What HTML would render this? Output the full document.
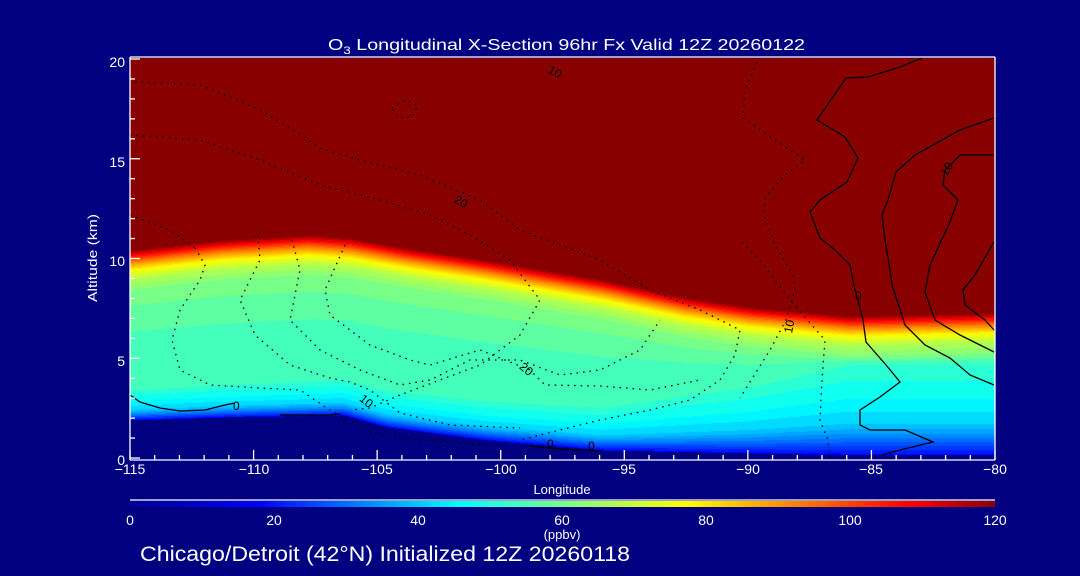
<!DOCTYPE html>
<html><head><meta charset="utf-8"><style>
html,body{margin:0;padding:0;background:#000080;}
#w{position:relative;width:1080px;height:576px;overflow:hidden;background:#000080;}
canvas,svg{position:absolute;left:0;top:0;}
text{font-family:"Liberation Sans",sans-serif;fill:#fff;}
</style></head><body><div id="w">
<canvas id="c" width="1080" height="576"></canvas>
<svg id="s" width="1080" height="576" xmlns="http://www.w3.org/2000/svg">
<defs><linearGradient id="cb" x1="0" x2="1" y1="0" y2="0">
<stop offset="0" stop-color="#000090"/><stop offset="0.148" stop-color="#0000ff"/><stop offset="0.383" stop-color="#00ffff"/><stop offset="0.508" stop-color="#80ff80"/><stop offset="0.642" stop-color="#ffff00"/><stop offset="0.9" stop-color="#ff0000"/><stop offset="1" stop-color="#880000"/></linearGradient></defs>
<g fill="none" stroke="#000" stroke-width="1.3">
<polyline points="922,58 900,67 868,77 846,78 817,120 845,137 858,158 847,182 820,200 810,212 820,238 835,250 850,265 855,290 858,300 863,320 866,342 886,365 900,382 880,397 860,410 860,425 870,430 905,430 933,442 900,450 882,455"/>
<polyline points="994,118 960,130 915,155 896,172 888,200 882,215 885,240 890,270 892,285 905,325 925,345 950,358 970,375 994,385"/>
<polyline points="994,155 960,155 945,170 943,185 958,200 950,222 930,265 925,292 935,320 960,335 994,352"/>
<polyline points="994,242 975,275 963,290 965,305 985,320 994,330"/>
<polyline points="130,395 140,402 160,408 180,411 205,410 225,405 235,403"/>
<polyline points="340,414 330,415 300,415 280,415"/>
<polyline points="530,446 560,449 600,451"/>
</g>
<g fill="none" stroke="#000" stroke-width="1.3" stroke-dasharray="1.5,5">
<polyline points="757,62 745,90 743,118 775,140 805,160 785,175 765,198 764,215 775,245 793,275 795,290 786,320 770,350 740,398"/>
<polyline points="742,242 760,260 790,300 825,340 822,380 820,420 828,440 830,458"/>
<polyline points="135,82 160,83 200,85 230,97 260,110 290,128 320,148 360,160 420,175 480,200 520,230 560,245 600,260 650,290 700,310 740,330 735,355 720,380 690,400 650,410 600,420 560,430 520,440"/>
<polyline points="130,135 200,140 260,160 320,185 380,200 430,215 470,235 510,260 540,300 520,335 480,365 440,380 400,395 370,408 350,410"/>
<polyline points="195,248 205,265 200,280 180,310 172,340 180,370 210,385 260,388 300,390 330,410 372,433 420,440 480,445"/>
<polyline points="258,235 260,260 240,300 255,335 290,365 330,378 350,382 370,390 400,413 450,425 520,428"/>
<polyline points="292,240 300,270 290,320 320,350 360,370 400,385 430,380 470,360 520,360 560,375 600,370 640,350 660,320"/>
<polyline points="345,245 325,290 330,315 370,345 410,360 430,365 480,350 500,358 530,370 545,385 600,386 650,390 700,380"/>
<polyline points="130,215 170,230 195,248"/>
<polyline points="392,108 405,100 418,105 412,117 398,118 392,108"/>
</g>
<g font-size="12"><text x="548" y="75" style="fill:#000" transform="rotate(30 553 72)">10</text><text x="455" y="205" style="fill:#000" transform="rotate(30 460 200)">20</text><text x="520" y="372" style="fill:#000" transform="rotate(40 525 368)">20</text><text x="360" y="404" style="fill:#000" transform="rotate(40 365 400)">10</text><text x="783" y="333" style="fill:#000" transform="rotate(-80 788 328)">10</text><text x="940" y="175" style="fill:#000" transform="rotate(-60 945 170)">10</text><text x="233" y="410" style="fill:#000">0</text><text x="855" y="300" style="fill:#000">0</text><text x="547" y="448" style="fill:#000">0</text><text x="588" y="450" style="fill:#000">0</text></g>
<g stroke="#fff" stroke-width="1.3" fill="none">
<line x1="130" y1="57" x2="995" y2="57"/><line x1="130" y1="460" x2="995" y2="460"/>
<line x1="130" y1="57" x2="130" y2="460"/><line x1="995" y1="57" x2="995" y2="460"/>
<line x1="130" y1="500" x2="995" y2="500"/>
<g id="tk"></g>
</g>
<rect x="130" y="501" width="865" height="6" fill="url(#cb)"/>
<g font-size="14" text-anchor="end">
<text x="125" y="465">0</text><text x="125" y="366">5</text><text x="125" y="266">10</text><text x="125" y="167">15</text><text x="125" y="67">20</text></g>
<g font-size="14" text-anchor="middle">
<text x="130" y="474">−115</text><text x="254" y="474">−110</text><text x="377" y="474">−105</text><text x="501" y="474">−100</text><text x="624" y="474">−95</text><text x="748" y="474">−90</text><text x="871" y="474">−85</text><text x="995" y="474">−80</text>
<text x="562" y="494" font-size="13">Longitude</text>
<text x="130" y="525">0</text><text x="274" y="525">20</text><text x="418" y="525">40</text><text x="562" y="525">60</text><text x="706" y="525">80</text><text x="850" y="525">100</text><text x="995" y="525">120</text>
<text x="562" y="539" font-size="13">(ppbv)</text>
<text x="97" y="258" font-size="13" transform="rotate(-90 97 258)" textLength="88" lengthAdjust="spacingAndGlyphs">Altitude (km)</text>
</g>
<text x="328" y="50" font-size="16" textLength="477" lengthAdjust="spacingAndGlyphs">O<tspan font-size="11" dy="4">3</tspan><tspan dy="-4"> Longitudinal X-Section 96hr  Fx Valid 12Z 20260122</tspan></text>
<text x="140" y="561" font-size="21" textLength="490" lengthAdjust="spacingAndGlyphs">Chicago/Detroit (42°N) Initialized 12Z 20260118</text>
</svg>
<script>
(function(){
var c=document.getElementById('c').getContext('2d');
function lin(pts,x){for(var i=0;i<pts.length-1;i++){if(x<=pts[i+1][0]){var t=(x-pts[i][0])/(pts[i+1][0]-pts[i][0]);return pts[i][1]+t*(pts[i+1][1]-pts[i][1]);}}return pts[pts.length-1][1];}
var B=[[130,250],[221,240],[308,235],[350,238],[407,248],[486,260],[604,280],[683,297],[750,307],[850,316],[995,313]];
var G=[[130,420],[225,417],[343,415],[387,427],[486,440],[604,450],[750,453],[850,455],[995,455]];
var S=[[130,1],[600,1.4],[750,2.2],[850,3],[995,3]];
var cm=[[0,[0,0,144]],[18,[0,0,255]],[46,[0,255,255]],[61,[128,255,128]],[77,[255,255,0]],[108,[255,0,0]],[120,[136,0,0]]];
function col(v){for(var i=0;i<cm.length-1;i++){if(v<=cm[i+1][0]){var t=(v-cm[i][0])/(cm[i+1][0]-cm[i][0]);var a=cm[i][1],b=cm[i+1][1];return [a[0]+t*(b[0]-a[0]),a[1]+t*(b[1]-a[1]),a[2]+t*(b[2]-a[2])];}}return cm[cm.length-1][1];}
var img=c.createImageData(865,400);
var top=[[0,120],[5,108],[12,92],[20,77],[28,68],[42,60]];
for(var x=130;x<995;x++){
 var b=lin(B,x),g=lin(G,x),s=lin(S,x);
 var bot=[[0,18],[5*s,30],[10*s,40],[18*s,46],[30*s,52]];
 for(var y=58;y<458;y++){
  var v;
  if(y>=g) v=0;
  else if(y<=b) v=120;
  else{
   var d=y-b,h=g-y;
   var tmax=42,bmax=30*s;
   if(d<=tmax&&h<=bmax) v=Math.min(lin(top,d),lin(bot,h));
   else if(d<=tmax) v=lin(top,d);
   else if(h<=bmax) v=lin(bot,h);
   else{var t=(d-tmax)/Math.max(1,(g-b-tmax-bmax));v=60+(53-60)*Math.min(1,t*1.6);}
  }
  v=Math.round(v/3)*3;
  var cc=(v<=0)?[0,0,128]:col(v);
  var i=((y-58)*865+(x-130))*4;
  img.data[i]=cc[0];img.data[i+1]=cc[1];img.data[i+2]=cc[2];img.data[i+3]=255;
 }
}
c.putImageData(img,130,58);
var tk=document.getElementById('tk'),h='';
for(var k=0;k<=35;k++){var x=130+k*865/35,L=(k%5==0)?10:5;h+='<line x1="'+x+'" y1="460" x2="'+x+'" y2="'+(460-L)+'"/>';}
for(var k=0;k<=20;k++){var y=458-k*19.95,L=(k%5==0)?10:5;h+='<line x1="130" y1="'+y+'" x2="'+(130+L)+'" y2="'+y+'"/>';}
tk.innerHTML=h;
})();
</script>
</div></body></html>
